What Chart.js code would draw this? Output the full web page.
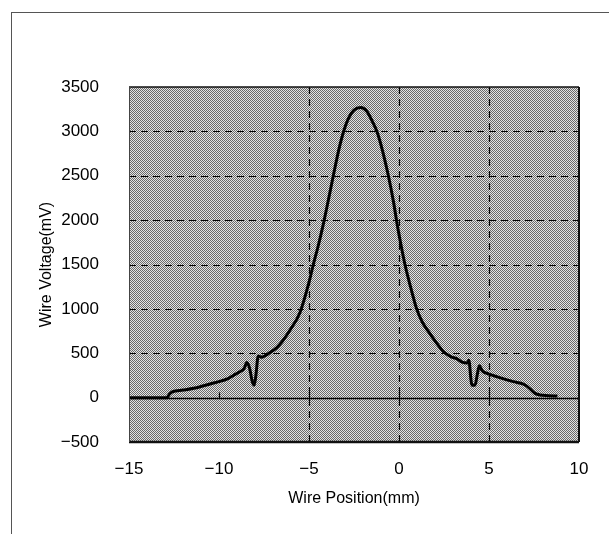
<!DOCTYPE html>
<html>
<head>
<meta charset="utf-8">
<script src="https://cdn.jsdelivr.net/npm/chart.js@4/dist/chart.umd.min.js"></script>
<style>
html,body{margin:0;padding:0;background:#fff;}
#wrap{position:relative;width:609px;height:534px;}
#frame{position:absolute;left:11px;top:12px;right:0;bottom:0;border-left:1px solid #555;border-top:1px solid #555;pointer-events:none;}
canvas{position:absolute;left:0;top:0;}
</style>
</head>
<body>
<div id="wrap"><canvas id="c" width="609" height="534"></canvas><div id="frame"></div></div>
<script>
// Wire position (mm)
const positions = [-15,-14,-13,-12.9,-12.75,-12.6,-12,-11.4,-11,-10.3,-10,-9.5,-9.2,-8.9,-8.6,-8.45,-8.3,-8.15,-8.05,-7.95,-7.82,-7.65,-7.3,-7,-6.8,-6.5,-6.06,-5.5,-5,-4.76,-4.5,-4.21,-4,-3.65,-3.3,-3.09,-2.8,-2.5,-2.13,-1.8,-1.5,-1.21,-0.9,-0.59,-0.3,-0.1,0.1,0.33,0.6,0.98,1.3,1.65,2.0,2.46,2.9,3.2,3.5,3.8,3.88,4.0,4.05,4.22,4.35,4.46,4.6,4.68,5.0,5.42,6.0,6.35,6.91,7.1,7.3,7.56,7.83,8.3,8.8];
// Wire voltage (mV)
const voltages = [0,0,0,0,40,65,85,105,125,165,180,215,250,285,330,395,330,180,140,250,470,455,490,530,560,630,760,960,1300,1500,1700,1950,2150,2500,2830,2990,3150,3240,3270,3230,3120,2990,2770,2500,2200,1950,1730,1500,1280,1000,850,740,640,520,460,440,400,390,420,200,140,140,260,360,310,292,265,236,200,180,153,130,95,48,29,22,18];
const xTicks = [-15,-10,-5,0,5,10];
const yTicks = [-500,0,500,1000,1500,2000,2500,3000,3500];
const xGridDashed = [-5,0,5];
const xZeroTicks = [-10,-5,0,5];

const points = positions.map((x,i)=>({x:x,y:voltages[i]}));

function makePattern(ctx){
  const p = document.createElement('canvas');
  p.width = 2; p.height = 2;
  const g = p.getContext('2d');
  g.fillStyle = '#e4e4e4'; g.fillRect(0,0,2,2);
  g.fillStyle = '#6a6a6a'; g.fillRect(0,0,1,1); g.fillRect(1,1,1,1);
  return ctx.createPattern(p,'repeat');
}

const plotDeco = {
  id:'plotDeco',
  beforeDatasetsDraw(chart){
    const {ctx, chartArea:a, scales:{x,y}} = chart;
    ctx.save();
    ctx.fillStyle = makePattern(ctx);
    ctx.fillRect(a.left,a.top,a.right-a.left,a.bottom-a.top);
    ctx.strokeStyle = '#000';
    ctx.lineWidth = 1.2;
    ctx.setLineDash([7,5]);
    yTicks.forEach(v=>{
      if (v<=yTicks[0] || v>=yTicks[yTicks.length-1] || v===0) return;
      const py = Math.round(y.getPixelForValue(v))+0.5;
      ctx.beginPath(); ctx.moveTo(a.left,py); ctx.lineTo(a.right,py); ctx.stroke();
    });
    xGridDashed.forEach(v=>{
      const px = Math.round(x.getPixelForValue(v))+0.5;
      ctx.beginPath(); ctx.moveTo(px,a.top); ctx.lineTo(px,a.bottom); ctx.stroke();
    });
    ctx.setLineDash([]);
    const y0 = Math.round(y.getPixelForValue(0))+0.5;
    ctx.lineWidth = 1.5;
    ctx.beginPath(); ctx.moveTo(a.left,y0); ctx.lineTo(a.right,y0); ctx.stroke();
    ctx.lineWidth = 1.2;
    xZeroTicks.forEach(v=>{
      const px = Math.round(x.getPixelForValue(v))+0.5;
      ctx.beginPath(); ctx.moveTo(px,y0-6); ctx.lineTo(px,y0); ctx.stroke();
    });
    ctx.restore();
  },
  afterDatasetsDraw(chart){
    const {ctx, chartArea:a} = chart;
    ctx.save();
    ctx.strokeStyle = '#111';
    ctx.lineWidth = 1.5;
    ctx.beginPath(); ctx.moveTo(a.left,a.top); ctx.lineTo(a.right,a.top); ctx.stroke();
    ctx.lineWidth = 2;
    ctx.beginPath(); ctx.moveTo(a.right,a.top); ctx.lineTo(a.right,a.bottom); ctx.stroke();
    ctx.lineWidth = 2.5;
    ctx.beginPath(); ctx.moveTo(a.left,a.bottom); ctx.lineTo(a.right,a.bottom); ctx.stroke();
    ctx.strokeStyle = '#444';
    ctx.lineWidth = 1;
    ctx.beginPath(); ctx.moveTo(a.left+0.5,a.top); ctx.lineTo(a.left+0.5,a.bottom); ctx.stroke();
    ctx.restore();
  }
};

const FONT = "'Liberation Sans', Arial, sans-serif";

new Chart(document.getElementById('c'), {
  type:'scatter',
  data:{datasets:[{
    data:points,
    showLine:true,
    borderColor:'#000',
    borderWidth:3,
    pointRadius:0,
    cubicInterpolationMode:'monotone',
    fill:false
  }]},
  options:{
    responsive:false,
    animation:false,
    devicePixelRatio:1,
    layout:{padding:{top:87,right:30,left:0,bottom:0}},
    plugins:{legend:{display:false},tooltip:{enabled:false}},
    scales:{
      x:{
        type:'linear', min:-15, max:10,
        afterBuildTicks(s){ s.ticks = xTicks.map(v=>({value:v})); },
        afterFit(s){ s.height = 92; },
        grid:{display:false, drawTicks:false},
        border:{display:false},
        ticks:{color:'#000', padding:17, maxRotation:0, font:{family:FONT,size:17},
          callback:(v)=> (v<0 ? '\u2212'+Math.abs(v) : String(v))},
        title:{display:true, text:'Wire Position(mm)', color:'#000', font:{family:FONT,size:16}, padding:{top:0,bottom:26}}
      },
      y:{
        type:'linear', min:-500, max:3500,
        afterBuildTicks(s){ s.ticks = yTicks.map(v=>({value:v})); },
        afterFit(s){ s.width = 129; },
        grid:{display:false, drawTicks:false},
        border:{display:false},
        ticks:{color:'#000', padding:30, font:{family:FONT,size:17},
          callback:(v)=> (v<0 ? '\u2212'+Math.abs(v) : String(v))},
        title:{display:true, text:'Wire Voltage(mV)', color:'#000', font:{family:FONT,size:16}, padding:{top:37,bottom:0}}
      }
    }
  },
  plugins:[plotDeco]
});
</script>
</body>
</html>
